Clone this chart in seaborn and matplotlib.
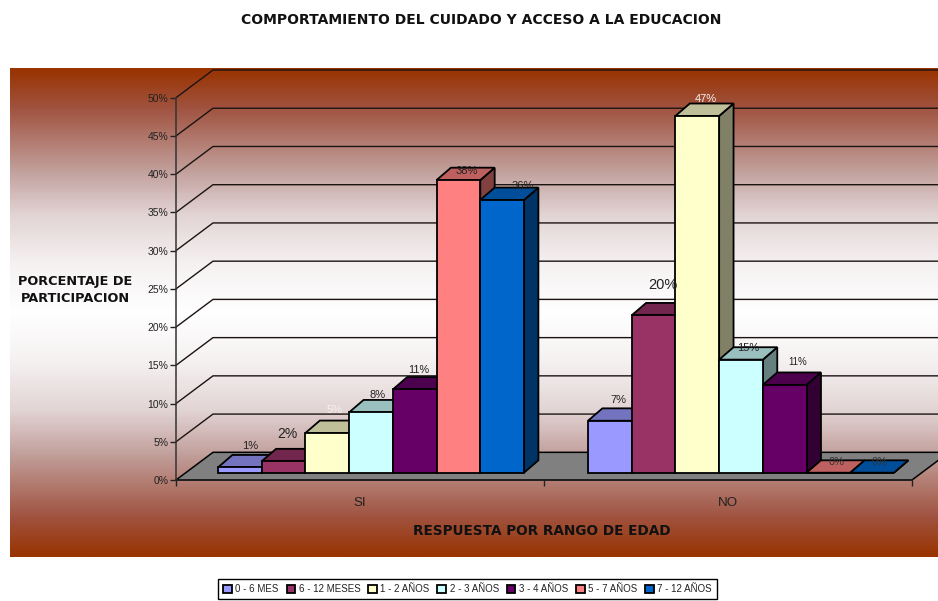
import numpy as np
import pandas as pd
import matplotlib
matplotlib.use("Agg")
import matplotlib.pyplot as plt
from matplotlib.colors import LinearSegmentedColormap, to_rgb
from matplotlib.patches import Polygon
import seaborn as sns

# Values
respuestas = ["SI", "NO"]
edades = ["0 - 6 MES", "6 - 12 MESES", "1 - 2 AÑOS", "2 - 3 AÑOS", "3 - 4 AÑOS", "5 - 7 AÑOS", "7 - 12 AÑOS"]
si_values = [0.7, 1.5, 5.2, 7.9, 10.9, 38.3, 35.7]
no_values = [6.8, 20.6, 46.7, 14.8, 11.5, 0, 0]
si_labels = ["1%", "2%", "5%", "8%", "11%", "38%", "36%"]
no_labels = ["7%", "20%", "47%", "15%", "11%", "0%", "0%"]
colores = ["#9999FF", "#993366", "#FFFFCC", "#CCFFFF", "#660066", "#FF8080", "#0066CC"]

# Label styling: the labels were moved around by hand in the original
si_sizes = [8, 10, 8, 8, 7.8, 8, 8]
no_sizes = [8, 10.5, 8, 8, 7, 8, 8]
si_text = ["#222222", "#222222", "#F5F0F0", "#222222", "#222222", "#222222", "#222222"]
no_text = ["#222222", "#222222", "#F5F0F0", "#222222", "#222222", "#333333", "#333333"]
si_nudge = [(10, 21), (4, 27), (7, 23), (7, 17), (4, 19), (8, 9), (21, 14)]
no_nudge = [(9, 21), (9, 30), (9, 17), (7, 12), (13, 23), (8, 11), (7, 11)]

df = pd.DataFrame({
    "respuesta": ["SI"] * len(edades) + ["NO"] * len(edades),
    "edad": edades * 2,
    "valor": si_values + no_values,
})

W, H = 938, 601


def px_rect(x0, y0, x1, y1):
    return [x0 / W, 1 - y1 / H, (x1 - x0) / W, (y1 - y0) / H]


sns.set_theme(style="white")
plt.rcParams["font.family"] = ["Liberation Sans", "DejaVu Sans"]
fig = plt.figure(figsize=(W / 100, H / 100), dpi=100, facecolor="white")

# Gradient panel behind everything
bg = fig.add_axes(px_rect(10, 68, 938, 557), zorder=0)
cmap = LinearSegmentedColormap.from_list("panel", [
    (0.0, "#993300"), (0.16, "#A0523F"), (0.42, "#C2A09C"),
    (0.6, "#E2D4D4"), (0.8, "#F5F1F1"), (1.0, "#FFFFFF"),
])
grad = 1 - np.abs(np.linspace(-1, 1, 489))
bg.imshow(grad[:, None], aspect="auto", cmap=cmap, vmin=0, vmax=1)
bg.axis("off")

# Front plane of the box: carries the axis ticks, walls and floor
ax = fig.add_axes(px_rect(176, 97.7, 912, 480), zorder=1)
ax.patch.set_alpha(0)
ax.set_xlim(-0.5, 1.5)
ax.set_ylim(0, 50)
depth_x, depth_y = 37 / 368, 27.7 / 7.65

floor = Polygon([(-0.5, 0), (-0.5 + depth_x, depth_y), (1.5 + depth_x, depth_y), (1.5, 0)],
                closed=True, facecolor="#808080", edgecolor="black", lw=1.1, clip_on=False, zorder=1)
ax.add_patch(floor)
for v in range(5, 55, 5):
    ax.plot([-0.5, -0.5 + depth_x, 1.5 + depth_x], [v, v + depth_y, v + depth_y],
            color="#1c1412", lw=1.0, clip_on=False, zorder=0.5)

ax.set_yticks(range(0, 55, 5), [f"{v}%" for v in range(0, 55, 5)])
ax.set_xticks([-0.5, 0.5, 1.5], ["", "", ""])
ax.set_xticks([0, 1], respuestas, minor=True)
ax.tick_params(axis="y", direction="out", length=4.5, width=1, color="#222222", pad=1, labelsize=7.5,
               left=True, labelcolor="#222222")
ax.tick_params(axis="x", which="major", direction="out", length=4.5, width=1, color="#222222", bottom=True)
ax.tick_params(axis="x", which="minor", length=0, pad=12, labelsize=9.6, labelcolor="#222222")
for side in ["top", "right"]:
    ax.spines[side].set_visible(False)
ax.spines["left"].set_color("#333333")
ax.spines["bottom"].set_color("#222222")
ax.spines["left"].set_linewidth(1.1)
ax.spines["bottom"].set_linewidth(1.1)

# DejaVu Bold is wide enough to fill the space of the letter-spaced original headings
ax.set_xlabel("RESPUESTA POR RANGO DE EDAD", fontsize=9.8, fontweight="bold", color="#111111",
              family="DejaVu Sans")
ax.xaxis.set_label_coords((542 - 176) / 736, (480 - 531) / 382.3)
ax.xaxis.label.set_va("center")
ax.set_ylabel("PORCENTAJE DE\nPARTICIPACION", fontsize=9.3, fontweight="bold", color="#111111",
              family="DejaVu Sans", rotation=0, ha="center", va="center", linespacing=1.35)
ax.yaxis.set_label_coords((75 - 176) / 736, (480 - 290) / 382.3)

fig.text(481 / W, 1 - 20 / H, "COMPORTAMIENTO DEL CUIDADO Y ACCESO A LA EDUCACION",
         ha="center", va="center", fontsize=10, fontweight="bold", color="#111111", family="DejaVu Sans")

# Bars sit a little way into the box, so they get their own axes
ax_bars = fig.add_axes(px_rect(186, 90.7, 926, 472.7), zorder=2)
ax_bars.patch.set_alpha(0)
sns.barplot(data=df, x="respuesta", y="valor", hue="edad", order=respuestas, hue_order=edades,
            palette=dict(zip(edades, colores)), width=0.827, gap=0, saturation=1,
            edgecolor="black", linewidth=1.3, ax=ax_bars)
ax_bars.set_xlim(-0.5, 1.5)
ax_bars.set_ylim(0, 50)
ax_bars.axis("off")
handles, labels = ax_bars.get_legend_handles_labels()
ax_bars.get_legend().remove()

# Side and top faces, painted left to right so each bar hides the one before
bar_dx, bar_dy = 14.4 / 370, 12.4 / 7.64
labels_all = si_labels + no_labels
sizes_all = si_sizes + no_sizes
text_all = si_text + no_text
nudge_all = si_nudge + no_nudge
bars = []
for h, container in enumerate(ax_bars.containers):
    for bar in container:
        cat = int(round(bar.get_x() + bar.get_width() / 2))
        bars.append((cat, h, bar))
bars.sort(key=lambda t: (t[0], t[1]))

for i, (cat, h, bar) in enumerate(bars):
    x0, x1 = bar.get_x(), bar.get_x() + bar.get_width()
    top = bar.get_height()
    rgb = np.array(to_rgb(colores[h]))
    z = 3 + i * 3
    side = Polygon([(x1, 0), (x1 + bar_dx, bar_dy), (x1 + bar_dx, top + bar_dy), (x1, top)], closed=True,
                   facecolor=rgb * 0.5, edgecolor="black", lw=1.3, clip_on=False, zorder=z)
    cap = Polygon([(x0, top), (x1, top), (x1 + bar_dx, top + bar_dy), (x0 + bar_dx, top + bar_dy)], closed=True,
                  facecolor=rgb * 0.75, edgecolor="black", lw=1.3, clip_on=False, zorder=z)
    ax_bars.add_patch(side)
    ax_bars.add_patch(cap)
    bar.set_zorder(z + 1)
    bar.set_clip_on(False)
    k = cat * len(edades) + h
    ax_bars.annotate(labels_all[k], xy=((x0 + x1) / 2, top), xytext=nudge_all[k], textcoords="offset pixels",
                     ha="center", va="center", fontsize=sizes_all[k], color=text_all[k], zorder=100)

leg = fig.legend(handles, labels, loc="center", bbox_to_anchor=(467.5 / W, 1 - 589 / H), ncol=7,
                 fontsize=7, frameon=True, fancybox=False, edgecolor="black", facecolor="white", framealpha=1,
                 handlelength=0.9, handleheight=0.9, handletextpad=0.35, columnspacing=0.8, borderpad=0.55)
leg.get_frame().set_linewidth(1)
for t in leg.get_texts():
    t.set_color("#222222")

fig.savefig("out.png", dpi=100)
